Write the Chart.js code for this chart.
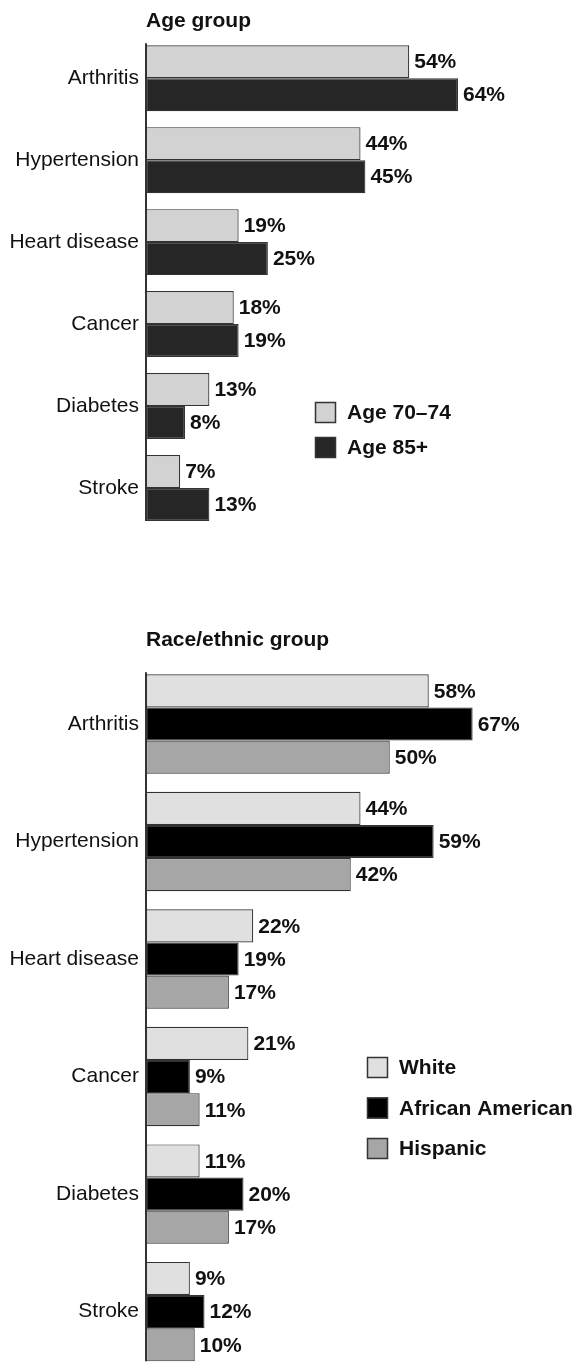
<!DOCTYPE html>
<html>
<head>
<meta charset="utf-8">
<script src="https://cdn.jsdelivr.net/npm/chart.js@4.4.1/dist/chart.umd.min.js"></script>
<style>
  html, body { margin: 0; padding: 0; background: #fff; }
  #page { position: relative; width: 575px; height: 1364px; overflow: hidden; }
  #box1 { position: absolute; left: 0; top: 0; }
  #box2 { position: absolute; left: 0; top: 600px; }
</style>
</head>
<body>
<div id="page">
  <div id="box1"><canvas id="ageChart" width="575" height="560"></canvas></div>
  <div id="box2"><canvas id="raceChart" width="575" height="790"></canvas></div>
</div>
<script>
const conditions = ['Arthritis', 'Hypertension', 'Heart disease', 'Cancer', 'Diabetes', 'Stroke'];

// Age group
const age7074 = [54, 44, 19, 18, 13, 7];
const age85plus = [64, 45, 25, 19, 8, 13];

// Race/ethnic group
const white = [58, 44, 22, 21, 11, 9];
const africanAmerican = [67, 59, 19, 9, 20, 12];
const hispanic = [50, 42, 17, 11, 17, 10];

const FONT = '"Liberation Sans", Arial, Helvetica, sans-serif';
const INK = '#111';

// value labels at the end of each bar + the axis line next to the bars
const barLabels = {
    id: 'barLabels',
    afterDatasetsDraw(chart) {
        const ctx = chart.ctx;
        let top = Infinity, bottom = -Infinity;
        ctx.save();
        ctx.font = 'bold 21px ' + FONT;
        ctx.fillStyle = INK;
        ctx.textAlign = 'left';
        ctx.textBaseline = 'middle';
        chart.data.datasets.forEach((ds, i) => {
            const meta = chart.getDatasetMeta(i);
            meta.data.forEach((bar, j) => {
                ctx.fillText(ds.data[j] + '%', bar.x + 5, bar.y + 1);
                top = Math.min(top, bar.y - bar.height / 2);
                bottom = Math.max(bottom, bar.y + bar.height / 2);
            });
        });
        // vertical axis
        const x = chart.chartArea.left;
        ctx.strokeStyle = '#333';
        ctx.lineWidth = 2;
        ctx.beginPath();
        ctx.moveTo(x, top - 2);
        ctx.lineTo(x, bottom);
        ctx.stroke();
        ctx.restore();
    }
};

// legend drawn at a fixed spot inside the plot
const boxLegend = {
    id: 'boxLegend',
    afterDraw(chart, args, opts) {
        const ctx = chart.ctx;
        ctx.save();
        ctx.font = 'bold 21px ' + FONT;
        ctx.textBaseline = 'middle';
        chart.data.datasets.forEach((ds, i) => {
            const y = opts.y + i * opts.gap;
            ctx.fillStyle = ds.backgroundColor;
            ctx.fillRect(opts.x, y, opts.size, opts.size);
            ctx.strokeStyle = '#333';
            ctx.lineWidth = 1.5;
            ctx.strokeRect(opts.x + 0.5, y + 0.5, opts.size - 1, opts.size - 1);
            ctx.fillStyle = INK;
            ctx.fillText(ds.label, opts.x + opts.size + 11, y + opts.size / 2 + 1);
        });
        ctx.restore();
    }
};

function makeChart(canvasId, title, datasets, catPct, titlePad, padBottom, legendPos) {
    return new Chart(document.getElementById(canvasId), {
        type: 'bar',
        data: { labels: conditions, datasets: datasets },
        options: {
            indexAxis: 'y',
            responsive: false,
            animation: false,
            layout: { padding: { top: 0, left: 0, right: 0, bottom: padBottom } },
            datasets: {
                bar: { categoryPercentage: catPct, barPercentage: 1, borderWidth: 1.2, borderColor: '#333', borderSkipped: false }
            },
            scales: {
                x: { display: false, min: 0, max: 88 },
                y: {
                    grid: { display: false, drawTicks: false },
                    border: { display: false },
                    ticks: { padding: 7, color: INK, font: { family: FONT, size: 21 } },
                    afterFit(scale) { scale.width = 146; }
                }
            },
            plugins: {
                legend: { display: false },
                tooltip: { enabled: false },
                title: {
                    display: true,
                    text: title,
                    align: 'start',
                    fullSize: false,
                    color: INK,
                    font: { family: FONT, size: 21, weight: 'bold', lineHeight: 1.2 },
                    padding: titlePad
                },
                boxLegend: legendPos
            }
        },
        plugins: [barLabels, boxLegend]
    });
}

makeChart('ageChart', 'Age group', [
    { label: 'Age 70–74', data: age7074, backgroundColor: '#d2d2d2' },
    { label: 'Age 85+', data: age85plus, backgroundColor: '#262626' }
], 66 / 82, { top: 9, bottom: 3 }, 31, { x: 315, y: 402, size: 21, gap: 35 });

makeChart('raceChart', 'Race/ethnic group', [
    { label: 'White', data: white, backgroundColor: '#e0e0e0' },
    { label: 'African American', data: africanAmerican, backgroundColor: '#000000' },
    { label: 'Hispanic', data: hispanic, backgroundColor: '#a6a6a6' }
], 100 / 118.2, { top: 28, bottom: 12 }, 16, { x: 367, y: 457, size: 21, gap: 40.5 });
</script>
</body>
</html>
